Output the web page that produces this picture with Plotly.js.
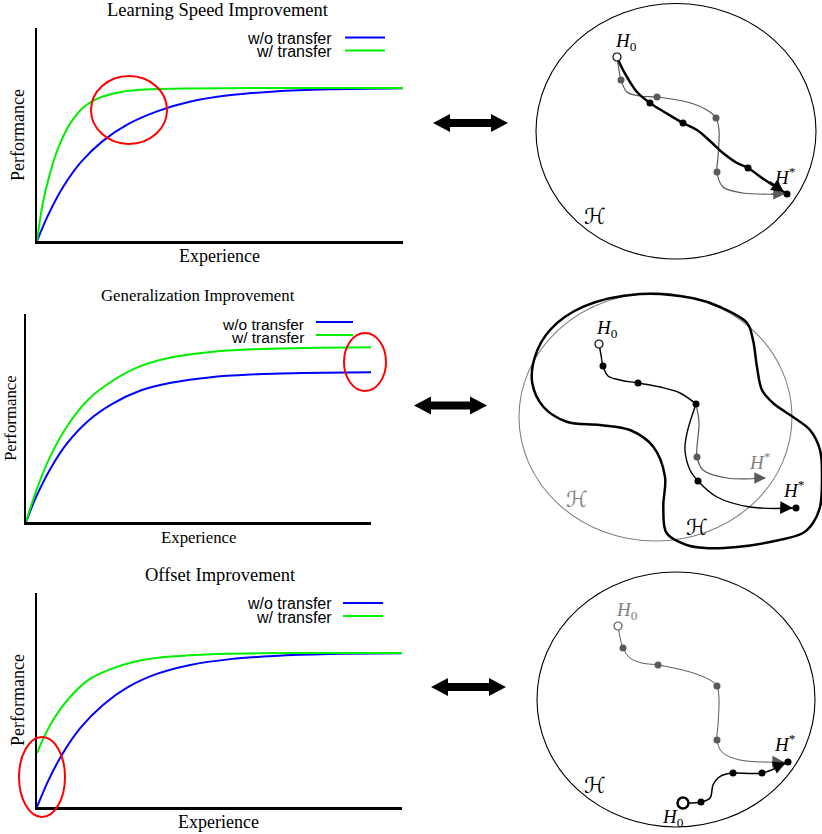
<!DOCTYPE html>
<html>
<head>
<meta charset="utf-8">
<script src="https://cdn.plot.ly/plotly-3.0.1.min.js"></script>
<style>
  html, body { margin: 0; padding: 0; background: #fff; }
  #chart { width: 822px; height: 834px; }
</style>
</head>
<body>
<div id="chart"></div>
<script>
// ---- learning curves (experience 0..10, performance 0..1) ----
const speedExp       = [0, 0.3, 0.7, 1.2, 1.8, 2.5, 3.3, 4.2, 5.3, 6.5, 8, 10];
const speedWithout   = [0, 0.12, 0.25, 0.37, 0.47, 0.55, 0.61, 0.655, 0.685, 0.702, 0.712, 0.717];
const speedExpW      = [0, 0.15, 0.35, 0.6, 0.9, 1.25, 1.7, 2.3, 3.1, 4.2, 6, 8, 10];
const speedWith      = [0, 0.17, 0.315, 0.445, 0.55, 0.625, 0.672, 0.700, 0.712, 0.716, 0.718, 0.718, 0.718];

const genExp         = [0, 0.3, 0.7, 1.2, 1.8, 2.5, 3.3, 4.2, 5.3, 6.5, 8, 10];
const genWithout     = [0, 0.123, 0.254, 0.38, 0.486, 0.568, 0.631, 0.669, 0.695, 0.709, 0.716, 0.720];
const genWith        = [0, 0.152, 0.314, 0.463, 0.588, 0.678, 0.748, 0.791, 0.816, 0.830, 0.837, 0.840];

const offExp         = [0, 0.3, 0.7, 1.2, 1.8, 2.5, 3.3, 4.2, 5.3, 6.5, 8, 10];
const offWithout     = [0, 0.12, 0.249, 0.372, 0.476, 0.561, 0.623, 0.664, 0.691, 0.706, 0.715, 0.718];
const offExpW        = [0, 0.2, 0.5, 0.9, 1.4, 2, 2.7, 3.5, 4.5, 6, 8, 10];
const offWith        = [0.252, 0.33, 0.423, 0.513, 0.593, 0.643, 0.680, 0.701, 0.712, 0.718, 0.72, 0.72];

const seriesNames = ['w/o transfer', 'w/ transfer'];
const plotTitles  = ['Learning Speed Improvement', 'Generalization Improvement', 'Offset Improvement'];

// ---- hypothesis-space diagrams (canvas units) ----
// row 1: learning speed
const r1GrayX  = [617, 619, 621, 627, 640, 657, 687, 707, 716, 719, 718, 717, 723, 743, 785];
const r1GrayY  = [57, 70, 80, 92, 96, 97, 102, 110, 118, 130, 157, 172, 187, 193, 194];
const r1GrayDotX = [621, 657, 716, 717];
const r1GrayDotY = [80, 97, 118, 172];
const r1BlackX = [617, 622, 627, 637, 650, 666, 683, 697, 710, 723, 737, 748, 765, 787];
const r1BlackY = [57, 68, 77, 92, 103, 113, 123, 130, 141, 153, 163, 168, 180, 194];
const r1BlackDotX = [650, 683, 748, 787];
const r1BlackDotY = [103, 123, 168, 194];

// row 2: generalization
const r2BlobX = [550, 583.3, 640, 693.3, 720, 747, 753, 757, 762, 773, 793, 810, 820, 822, 820, 813, 803, 770, 737, 705, 686.7, 666.7, 663.3, 665, 653.3, 630, 600, 566.7, 543.3, 532.3, 535, 550];
const r2BlobY = [330, 306.7, 294, 298.3, 307, 323, 340, 367, 390, 403, 417, 430, 450, 477, 507, 523, 533, 542, 547, 548, 545, 533.3, 506.7, 476.7, 446.7, 430, 425, 421.7, 406.7, 383.3, 356.7, 330];
const r2SharedX = [599, 601, 603, 608, 620, 638, 660, 680, 696];
const r2SharedY = [344, 355, 366, 376, 380, 383, 387, 393, 404];
const r2SharedDotX = [603, 638, 696];
const r2SharedDotY = [366, 383, 404];
const r2GrayX  = [696, 699, 697, 697, 703, 727, 765];
const r2GrayY  = [404, 423, 447, 457, 470, 478, 478];
const r2BlackX = [696, 687, 685, 690, 698, 717, 750, 796];
const r2BlackY = [404, 433, 450, 470, 481, 497, 507, 508];
const r2GrayDotX = [697], r2GrayDotY = [457];
const r2BlackDotX = [698, 796], r2BlackDotY = [481, 508];

// row 3: offset
const r3GrayX  = [618, 620, 623, 630, 642, 658, 690, 710, 717, 719, 718, 717, 722, 740, 785];
const r3GrayY  = [626, 637, 648, 658, 663, 665, 672, 680, 686, 700, 725, 740, 752, 760, 762];
const r3GrayDotX = [623, 658, 717, 717];
const r3GrayDotY = [648, 665, 686, 740];
const r3BlackX = [683, 701, 710, 713, 718, 723, 733, 762, 788];
const r3BlackY = [803, 802, 798, 785, 778, 775, 773, 773, 762];
const r3BlackDotX = [701, 733, 762, 788];
const r3BlackDotY = [802, 773, 773, 762];

const BLUE = '#0000ff', GREEN = '#00ee00', RED = '#ff0000';
const GRAY = '#5a5a5a', LGRAY = '#808080';
const W = 822, H = 834;

function curve(x, y, color, ax) {
  return { x: x, y: y, xaxis: 'x' + ax, yaxis: 'y' + ax, type: 'scatter', mode: 'lines',
           line: { color: color, width: 2, shape: 'spline', smoothing: 0.8 }, hoverinfo: 'skip' };
}
function path(x, y, color, width) {
  return { x: x, y: y, xaxis: 'x4', yaxis: 'y4', type: 'scatter', mode: 'lines', cliponaxis: false,
           line: { color: color, width: width, shape: 'spline', smoothing: 1 }, hoverinfo: 'skip' };
}
function dots(x, y, color, size) {
  return { x: x, y: y, xaxis: 'x4', yaxis: 'y4', type: 'scatter', mode: 'markers',
           marker: { color: color, size: size || 7 }, hoverinfo: 'skip' };
}
function ring(x, y, color, size, w) {
  return { x: x, y: y, xaxis: 'x4', yaxis: 'y4', type: 'scatter', mode: 'markers',
           marker: { symbol: 'circle', color: '#ffffff', size: size, line: { color: color, width: w } },
           hoverinfo: 'skip' };
}

const traces = [
  curve(speedExp, speedWithout, BLUE, ''), curve(speedExpW, speedWith, GREEN, ''),
  curve(genExp, genWithout, BLUE, 2), curve(genExp, genWith, GREEN, 2),
  curve(offExp, offWithout, BLUE, 3), curve(offExpW, offWith, GREEN, 3),

  path(r1GrayX, r1GrayY, GRAY, 1.2), dots(r1GrayDotX, r1GrayDotY, GRAY, 7),
  path(r1BlackX, r1BlackY, '#000', 2.5), dots(r1BlackDotX, r1BlackDotY, '#000', 7),
  ring([r1BlackX[0]], [r1BlackY[0]], '#000', 8, 1.2),

  path(r2BlobX, r2BlobY, '#000', 2.5),
  path(r2GrayX, r2GrayY, GRAY, 1.2), path(r2BlackX, r2BlackY, '#000', 1.4),
  path(r2SharedX, r2SharedY, '#000', 1.4),
  dots(r2SharedDotX, r2SharedDotY, '#000', 7), dots(r2GrayDotX, r2GrayDotY, GRAY, 7),
  dots(r2BlackDotX, r2BlackDotY, '#000', 7),
  ring([r2SharedX[0]], [r2SharedY[0]], '#000', 8, 1.2),

  path(r3GrayX, r3GrayY, GRAY, 1), dots(r3GrayDotX, r3GrayDotY, GRAY, 7),
  ring([r3GrayX[0]], [r3GrayY[0]], GRAY, 8, 1.2),
  path(r3BlackX, r3BlackY, '#000', 1.5), dots(r3BlackDotX, r3BlackDotY, '#000', 7),
  ring([r3BlackX[0]], [r3BlackY[0]], '#000', 11, 2.5)
];

// canvas helpers: pixel -> paper fractions
const dx = (a, b) => [a / W, b / W];
const dy = (top, bottom) => [1 - bottom / H, 1 - top / H];

function plotAxis(dom) {
  return { domain: dom, range: [0, 10], showline: true, linewidth: 2.5, linecolor: '#000',
           showgrid: false, zeroline: false, showticklabels: false, ticks: '', fixedrange: true };
}
function plotYAxis(dom) {
  return { domain: dom, range: [0, 1], showline: true, linewidth: 2.5, linecolor: '#000',
           showgrid: false, zeroline: false, showticklabels: false, ticks: '', fixedrange: true };
}

const SERIF = 'Liberation Serif, Times New Roman, serif';
const SANS = 'Liberation Sans, Arial, sans-serif';
const MATH = 'DejaVu Serif, DejaVu Sans, serif';

function txt(text, x, y, size, opts) {
  return Object.assign({ text: text, x: x, y: y, xref: 'x4', yref: 'y4', showarrow: false,
    font: { family: SERIF, size: size, color: '#000' }, xanchor: 'center', yanchor: 'middle' }, opts || {});
}
function legendText(text, x, y, size) {
  return txt(text, x, y, size, { xanchor: 'right', font: { family: SANS, size: size, color: '#000' } });
}
function script(x, y, color) {
  return txt('ℋ', x, y, 22, { font: { family: MATH, size: 22, color: color } });
}
function head(x, y, ax, ay, color, width, size) {
  return { text: '', x: x, y: y, ax: ax, ay: ay, xref: 'x4', yref: 'y4', axref: 'x4', ayref: 'y4',
           showarrow: true, arrowhead: 2, arrowsize: size, arrowwidth: width, arrowcolor: color };
}

const annotations = [
  // left panels
  txt(plotTitles[0], 218, 10, 18.5), txt('Experience', 219, 256, 18),
  txt('Performance', 18, 135, 18, { textangle: -90 }),
  legendText(seriesNames[0], 334, 38, 16), legendText(seriesNames[1], 334, 51, 16),

  txt(plotTitles[1], 198, 295, 16.8), txt('Experience', 198, 537, 16.8),
  txt('Performance', 10, 418, 16.8, { textangle: -90 }),
  legendText(seriesNames[0], 306, 324, 15.5), legendText(seriesNames[1], 306, 337, 15.5),

  txt(plotTitles[2], 220, 575, 18.5), txt('Experience', 218, 822, 18),
  txt('Performance', 18, 700, 18, { textangle: -90 }),
  legendText(seriesNames[0], 334, 603, 16), legendText(seriesNames[1], 334, 617, 16),

  // diagram labels
  txt('<i>H</i><sub>0</sub>', 626, 42, 19),
  txt('<i>H</i><sup>*</sup>', 785, 176, 19),
  script(595, 216, '#000'),

  txt('<i>H</i><sub>0</sub>', 607, 329, 19),
  txt('<i>H</i><sup>*</sup>', 760, 461, 19, { font: { family: SERIF, size: 19, color: LGRAY } }),
  txt('<i>H</i><sup>*</sup>', 794, 489, 19),
  script(577, 499, LGRAY),
  script(697, 527, '#000'),

  txt('<i>H</i><sub>0</sub>', 627, 611, 19, { font: { family: SERIF, size: 19, color: LGRAY } }),
  txt('<i>H</i><sup>*</sup>', 785, 743, 19),
  txt('<i>H</i><sub>0</sub>', 673, 818, 19),
  script(595, 785, '#000'),

  // arrowheads at path ends
  head(785, 194, 770, 193.5, GRAY, 1.3, 1.8),
  head(784, 192, 768, 181, '#000', 2.5, 1),
  head(766, 478, 753, 478, GRAY, 1.3, 1.8),
  head(793, 508, 780, 507.6, '#000', 1.6, 1.6),
  head(784, 762, 771, 761.5, GRAY, 1.3, 1.8),
  head(786, 762.5, 772, 768.5, '#000', 1.6, 1.6)
];

function legendLine(x0, x1, y, color) {
  return { type: 'line', xref: 'x4', yref: 'y4', x0: x0, x1: x1, y0: y, y1: y,
           line: { color: color, width: 2 } };
}
function dblArrow(x0, x1, y) {
  const hl = 17, hh = 9, sh = 4;
  const p = `M${x0},${y} L${x0 + hl},${y - hh} L${x0 + hl},${y - sh} L${x1 - hl},${y - sh} L${x1 - hl},${y - hh} ` +
            `L${x1},${y} L${x1 - hl},${y + hh} L${x1 - hl},${y + sh} L${x0 + hl},${y + sh} L${x0 + hl},${y + hh} Z`;
  return { type: 'path', xref: 'x4', yref: 'y4', path: p, fillcolor: '#000', line: { width: 0 } };
}
function ellipse(x0, x1, y0, y1, color, width, layer) {
  return { type: 'circle', xref: 'x4', yref: 'y4', x0: x0, x1: x1, y0: y0, y1: y1,
           line: { color: color, width: width }, layer: layer || 'above' };
}

const shapes = [
  legendLine(345, 385, 37.5, BLUE), legendLine(345, 385, 50.5, GREEN),
  legendLine(316, 353, 322, BLUE), legendLine(316, 353, 335, GREEN),
  legendLine(343, 383, 603, BLUE), legendLine(343, 383, 616, GREEN),

  ellipse(91, 167, 76, 144, RED, 2),
  ellipse(344, 386, 333, 391, RED, 2),
  ellipse(19, 65, 737, 817, RED, 2),

  dblArrow(433, 508, 123), dblArrow(414, 487, 405.5), dblArrow(431, 506, 687),

  ellipse(536, 816, 3.5, 259, '#000', 1.1, 'below'),
  ellipse(519, 792, 293, 541, LGRAY, 1.1, 'below'),
  ellipse(537, 815, 572, 827, '#000', 1.1, 'below')
];

const layout = {
  width: W, height: H, margin: { l: 0, r: 0, t: 0, b: 0 },
  paper_bgcolor: '#ffffff', plot_bgcolor: 'rgba(0,0,0,0)', showlegend: false,
  xaxis:  Object.assign(plotAxis(dx(37, 403)), { anchor: 'y' }),
  yaxis:  Object.assign(plotYAxis(dy(28, 241)), { anchor: 'x' }),
  xaxis2: Object.assign(plotAxis(dx(26, 371)), { anchor: 'y2' }),
  yaxis2: Object.assign(plotYAxis(dy(314, 522)), { anchor: 'x2' }),
  xaxis3: Object.assign(plotAxis(dx(37, 402)), { anchor: 'y3' }),
  yaxis3: Object.assign(plotYAxis(dy(593, 807)), { anchor: 'x3' }),
  xaxis4: { domain: [0, 1], range: [0, W], visible: false, anchor: 'y4', fixedrange: true },
  yaxis4: { domain: [0, 1], range: [H, 0], visible: false, anchor: 'x4', fixedrange: true },
  annotations: annotations,
  shapes: shapes
};

Plotly.newPlot('chart', traces, layout, { staticPlot: true, displayModeBar: false });
</script>
</body>
</html>
